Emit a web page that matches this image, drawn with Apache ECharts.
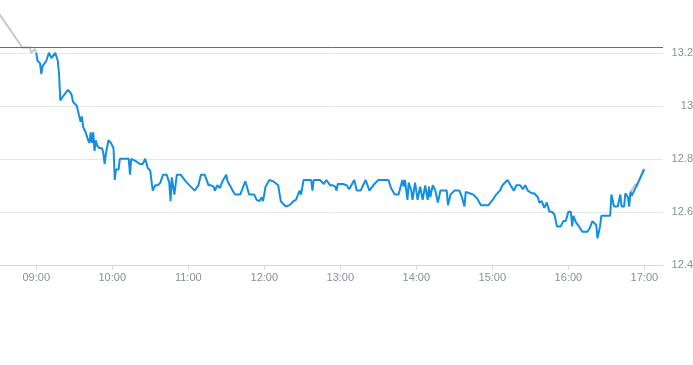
<!DOCTYPE html>
<html>
<head>
<meta charset="utf-8">
<script src="https://cdn.jsdelivr.net/npm/echarts@6/dist/echarts.min.js"></script>
<style>html,body{margin:0;padding:0;background:#fff}#c{width:693px;height:365px}</style>
</head>
<body>
<div id="c"></div>
<script>
// Intraday price (blue line)
const times = ["09:00","09:01","09:03","09:04","09:05","09:08","09:10","09:11","09:12","09:15","09:17","09:18","09:19","09:21","09:25","09:27","09:28","09:29","09:30","09:32","09:34","09:35","09:36","09:37","09:39","09:41","09:42","09:43","09:44","09:45","09:46","09:47","09:48","09:49","09:50","09:52","09:53","09:54","09:55","09:57","09:59","10:01","10:02","10:03","10:05","10:06","10:10","10:13","10:14","10:15","10:16","10:19","10:22","10:24","10:26","10:28","10:30","10:31","10:32","10:34","10:36","10:38","10:40","10:43","10:45","10:46","10:47","10:48","10:49","10:51","10:54","10:58","11:02","11:05","11:08","11:10","11:13","11:16","11:18","11:20","11:21","11:23","11:25","11:27","11:30","11:31","11:34","11:35","11:37","11:41","11:45","11:46","11:48","11:52","11:54","11:56","11:58","11:59","12:01","12:04","12:07","12:11","12:13","12:17","12:20","12:23","12:25","12:27","12:28","12:29","12:31","12:34","12:37","12:38","12:39","12:44","12:47","12:49","12:52","12:54","12:56","12:57","12:58","13:02","13:05","13:07","13:11","13:13","13:16","13:20","13:23","13:26","13:30","13:38","13:40","13:43","13:46","13:49","13:50","13:51","13:53","13:54","13:56","13:57","13:59","14:01","14:03","14:05","14:07","14:09","14:10","14:11","14:13","14:15","14:17","14:19","14:24","14:25","14:27","14:30","14:34","14:36","14:38","14:39","14:42","14:45","14:48","14:51","14:57","15:01","15:03","15:06","15:08","15:12","15:15","15:17","15:19","15:22","15:24","15:26","15:28","15:31","15:33","15:36","15:37","15:39","15:41","15:43","15:44","15:45","15:47","15:49","15:51","15:54","15:56","15:58","16:00","16:02","16:03","16:04","16:06","16:09","16:11","16:15","16:17","16:19","16:22","16:23","16:25","16:26","16:28","16:33","16:34","16:36","16:39","16:41","16:42","16:44","16:45","16:47","16:48","16:49","16:50","17:00"];
const prices = [13.20,13.17,13.16,13.12,13.15,13.17,13.20,13.20,13.18,13.20,13.17,13.12,13.02,13.035,13.06,13.05,13.04,13.015,13.01,13.00,12.96,12.94,12.96,12.92,12.90,12.87,12.86,12.90,12.86,12.90,12.83,12.87,12.85,12.85,12.84,12.84,12.82,12.78,12.82,12.87,12.86,12.84,12.72,12.76,12.76,12.80,12.80,12.80,12.74,12.80,12.80,12.79,12.78,12.78,12.80,12.765,12.755,12.715,12.68,12.70,12.70,12.71,12.74,12.74,12.71,12.64,12.73,12.725,12.665,12.74,12.74,12.715,12.695,12.68,12.70,12.74,12.74,12.70,12.70,12.695,12.68,12.70,12.69,12.715,12.74,12.715,12.69,12.68,12.665,12.665,12.715,12.70,12.665,12.665,12.645,12.64,12.655,12.64,12.695,12.72,12.715,12.70,12.64,12.62,12.625,12.64,12.645,12.67,12.68,12.665,12.72,12.72,12.72,12.68,12.72,12.72,12.705,12.72,12.70,12.70,12.695,12.68,12.705,12.705,12.70,12.685,12.72,12.68,12.68,12.72,12.68,12.70,12.72,12.72,12.69,12.665,12.665,12.72,12.695,12.72,12.645,12.71,12.68,12.645,12.71,12.645,12.695,12.645,12.70,12.645,12.695,12.655,12.70,12.68,12.635,12.68,12.68,12.625,12.665,12.68,12.68,12.655,12.62,12.675,12.67,12.665,12.65,12.625,12.625,12.65,12.665,12.68,12.70,12.72,12.695,12.68,12.70,12.70,12.685,12.70,12.68,12.67,12.67,12.655,12.635,12.64,12.615,12.635,12.64,12.60,12.60,12.59,12.545,12.545,12.565,12.565,12.60,12.60,12.545,12.585,12.56,12.54,12.525,12.525,12.54,12.565,12.55,12.50,12.545,12.585,12.585,12.585,12.665,12.62,12.62,12.665,12.62,12.62,12.67,12.655,12.62,12.675,12.66,12.76];

// Grey line segments (before open / near close)
const greyStartTimes = ["08:16","08:49","08:55","08:56","08:59","09:00"];
const greyStartPrices = [13.45,13.22,13.22,13.20,13.215,13.20];
const greyEndTimes = ["16:49","16:51","16:53","16:54","16:59","17:00"];
const greyEndPrices = [12.675,12.69,12.705,12.695,12.76,12.76];

const prevClose = 13.22;
const yTickValues = [12.4,12.6,12.8,13,13.2];
const xTickLabels = ["09:00","10:00","11:00","12:00","13:00","14:00","15:00","16:00","17:00"];
const xMin = 511.4, xMax = 1034.7; // axis range in minutes since midnight

const toMin = s => { const p = s.split(':'); return (+p[0]) * 60 + (+p[1]); };
const pad = n => (n < 10 ? '0' : '') + n;
const fmt = v => pad(Math.floor(v / 60)) + ':' + pad(Math.round(v % 60));
const pair = (ts, vs) => ts.map((t, i) => [toMin(t), vs[i]]);
const xTickValues = xTickLabels.map(toMin);

const labelColor = '#86909f';
const font = '"Liberation Sans", Arial, sans-serif';
const red = '#e53935';

const chart = echarts.init(document.getElementById('c'), null, {renderer: 'canvas'});
chart.setOption({
  animation: false,
  backgroundColor: '#fff',
  grid: {left: 0, right: 30, top: -0.2, bottom: 100.2, containLabel: false, outerBoundsMode: 'none'},
  xAxis: {
    type: 'value',
    min: xMin,
    max: xMax,
    axisLine: {show: true, lineStyle: {color: '#d4d8de', width: 1}},
    axisTick: {show: true, length: 5, lineStyle: {color: '#d4d8de'}, customValues: xTickValues},
    axisLabel: {color: labelColor, fontSize: 11, fontFamily: font, margin: 8, customValues: xTickValues, formatter: v => fmt(v)},
    splitLine: {show: false}
  },
  yAxis: {
    type: 'value',
    position: 'right',
    min: 12.4,
    max: 13.4,
    axisLine: {show: false},
    axisTick: {show: false, customValues: yTickValues},
    axisLabel: {color: labelColor, fontSize: 11, fontFamily: font, align: 'right', margin: 30, customValues: yTickValues},
    splitLine: {show: true, lineStyle: {color: '#e6e8ec', width: 1}}
  },
  series: [
    {type: 'line', data: pair(greyStartTimes, greyStartPrices), symbol: 'none', lineStyle: {color: '#c4c8cf', width: 2}, itemStyle: {color: '#c4c8cf'}, z: 2},
    {type: 'line', data: pair(greyEndTimes, greyEndPrices), symbol: 'none', lineStyle: {color: '#c4c8cf', width: 2}, itemStyle: {color: '#c4c8cf'}, z: 2},
    {type: 'line', data: pair(times, prices), symbol: 'none', lineStyle: {color: '#128fe2', width: 2}, itemStyle: {color: '#128fe2'}, z: 3},
    {type: 'line', data: [[xMin, prevClose], [xMax, prevClose]], symbol: 'none', silent: true,
     lineStyle: {color: red, width: 1}, itemStyle: {color: red}, z: 4}
  ]
});
</script>
</body>
</html>
